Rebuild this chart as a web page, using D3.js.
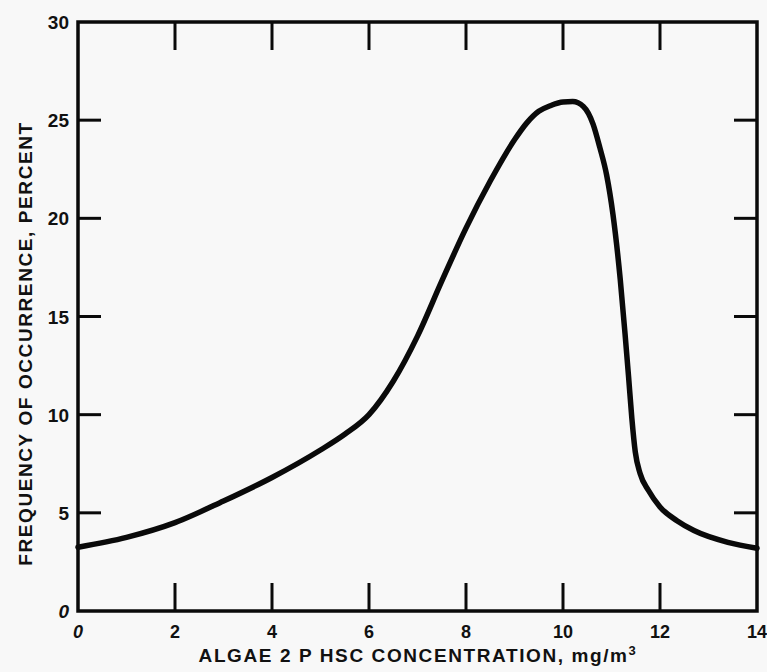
<!DOCTYPE html>
<html>
<head>
<meta charset="utf-8">
<script src="https://cdn.jsdelivr.net/npm/d3@7"></script>
<style>
  html, body { margin: 0; padding: 0; background: #f8f8f8; }
  svg { display: block; }
  text { font-family: "Liberation Sans", Arial, sans-serif; font-weight: bold; fill: #111; }
</style>
</head>
<body>
<script>
// Concentration (mg/m^3)
const concentration = [0, 1, 2, 3, 4, 5, 5.5, 6, 6.5, 7, 7.5, 8, 8.5, 9, 9.25, 9.5, 9.75, 10, 10.2, 10.42, 10.62, 10.76, 10.9, 11.03, 11.18, 11.28, 11.35, 11.42, 11.49, 11.59, 11.76, 12.0, 12.35, 12.7, 13.4, 14];
// Frequency of occurrence (percent)
const frequency = [3.25, 3.75, 4.5, 5.6, 6.8, 8.2, 9.0, 10.0, 11.7, 14.0, 16.8, 19.5, 21.9, 24.0, 24.85, 25.45, 25.75, 25.93, 25.95, 25.7, 24.8, 23.6, 22.2, 20.2, 16.9, 14.1, 12.0, 9.8, 8.1, 7.0, 6.15, 5.3, 4.6, 4.1, 3.5, 3.2];
const xTickValues = [0, 2, 4, 6, 8, 10, 12, 14];
const yTickValues = [0, 5, 10, 15, 20, 25, 30];
const xTitle = "ALGAE 2 P HSC CONCENTRATION, mg/m";
const yTitle = "FREQUENCY OF OCCURRENCE, PERCENT";

const W = 767, H = 672;
const margin = { left: 78, right: 10, top: 22, bottom: 61 };

const svg = d3.select("body").append("svg").attr("width", W).attr("height", H);

const x = d3.scaleLinear().domain([0, 14]).range([margin.left, W - margin.right]);
const y = d3.scaleLinear().domain([0, 30]).range([H - margin.bottom, margin.top]);

const ink = "#0a0a0a";

// frame
svg.append("rect")
  .attr("x", x(0)).attr("y", y(30))
  .attr("width", x(14) - x(0)).attr("height", y(0) - y(30))
  .attr("fill", "none").attr("stroke", ink).attr("stroke-width", 3.5);

// inward ticks
const innerX = xTickValues.filter(v => v > 0 && v < 14);
const innerY = yTickValues.filter(v => v > 0 && v < 30);
const tickLenX = 28, tickLenY = 23;

svg.append("g").selectAll("line").data(innerX).join("line")
  .attr("x1", d => x(d)).attr("x2", d => x(d))
  .attr("y1", y(0)).attr("y2", y(0) - tickLenX)
  .attr("stroke", ink).attr("stroke-width", 3);
svg.append("g").selectAll("line").data(innerX).join("line")
  .attr("x1", d => x(d)).attr("x2", d => x(d))
  .attr("y1", y(30)).attr("y2", y(30) + tickLenX)
  .attr("stroke", ink).attr("stroke-width", 3);
svg.append("g").selectAll("line").data(innerY).join("line")
  .attr("x1", x(0)).attr("x2", x(0) + tickLenY)
  .attr("y1", d => y(d)).attr("y2", d => y(d))
  .attr("stroke", ink).attr("stroke-width", 3);
svg.append("g").selectAll("line").data(innerY).join("line")
  .attr("x1", x(14)).attr("x2", x(14) - tickLenY)
  .attr("y1", d => y(d)).attr("y2", d => y(d))
  .attr("stroke", ink).attr("stroke-width", 3);

// tick labels
svg.append("g").selectAll("text").data(xTickValues).join("text")
  .attr("x", d => x(d)).attr("y", y(0) + 27)
  .attr("text-anchor", "middle")
  .attr("font-size", 18)
  .attr("font-style", d => d === 0 ? "italic" : "normal")
  .text(d => d);

svg.append("g").selectAll("text").data(yTickValues).join("text")
  .attr("x", x(0) - 9).attr("y", d => y(d) + 7)
  .attr("text-anchor", "end")
  .attr("font-size", 19)
  .attr("font-style", d => d === 0 ? "italic" : "normal")
  .text(d => d);

// axis titles
const xt = svg.append("text")
  .attr("x", 418).attr("y", 662)
  .attr("text-anchor", "middle")
  .attr("font-size", 19)
  .attr("letter-spacing", 1.6);
xt.append("tspan").text(xTitle);
xt.append("tspan").attr("font-size", 13).attr("dy", -7).text("3");

svg.append("text")
  .attr("transform", `translate(32, ${(97 + 590) / 2}) rotate(-90)`)
  .attr("text-anchor", "middle")
  .attr("font-size", 19)
  .attr("letter-spacing", 1.6)
  .text(yTitle);

// curve
const pts = concentration.map((c, i) => [c, frequency[i]]);
svg.append("path")
  .datum(pts)
  .attr("fill", "none")
  .attr("stroke", ink)
  .attr("stroke-width", 5.5)
  .attr("stroke-linejoin", "round")
  .attr("stroke-linecap", "round")
  .attr("d", d3.line().x(d => x(d[0])).y(d => y(d[1])).curve(d3.curveMonotoneX));
</script>
</body>
</html>
